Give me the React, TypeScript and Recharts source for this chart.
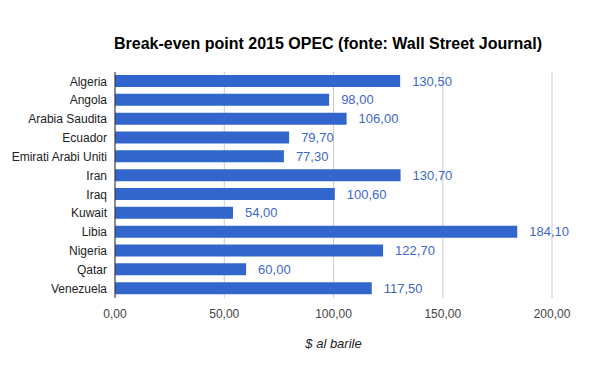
import React from "react"
import { BarChart, Bar, XAxis, YAxis, CartesianGrid, LabelList } from "recharts"

const countries = [
  "Algeria",
  "Angola",
  "Arabia Saudita",
  "Ecuador",
  "Emirati Arabi Uniti",
  "Iran",
  "Iraq",
  "Kuwait",
  "Libia",
  "Nigeria",
  "Qatar",
  "Venezuela",
]
const breakEven = [130.5, 98, 106, 79.7, 77.3, 130.7, 100.6, 54, 184.1, 122.7, 60, 117.5]
const xTicks = [0, 50, 100, 150, 200]

const data = countries.map((name, i) => ({ name, value: breakEven[i] }))

const fmt = (v: number) => Number(v).toFixed(2).replace(".", ",")
const font = "'Liberation Sans', Arial, sans-serif"

// category labels drawn by hand so long names don't get wrapped
const CountryTick = (props: any) => {
  const { x, y, payload } = props
  return (
    <text x={x} y={y} dy="0.35em" textAnchor="end" fontSize={12} fill="#222" fontFamily={font}>
      {payload.value}
    </text>
  )
}

const App = () => {
  return (
    <div style={{ position: "absolute", left: 0, top: 0, width: 600, height: 371, background: "#fff", fontFamily: font }}>
      <div
        style={{
          position: "absolute",
          left: 0,
          width: 656,
          top: 34,
          textAlign: "center",
          fontSize: 16,
          fontWeight: "bold",
          color: "#000",
          lineHeight: "20px",
        }}
      >
        Break-even point 2015 OPEC (fonte: Wall Street Journal)
      </div>
      <BarChart
        width={600}
        height={371}
        data={data}
        layout="vertical"
        barSize={12}
        margin={{ top: 72, right: 48, left: 0, bottom: 13 }}
      >
        <CartesianGrid horizontal={false} stroke="#cccccc" />
        <XAxis
          type="number"
          domain={[0, 200]}
          ticks={xTicks}
          tickFormatter={fmt}
          axisLine={false}
          tickLine={false}
          tickSize={0}
          tickMargin={11}
          height={60}
          tick={{ fontSize: 12, fill: "#444", fontFamily: font }}
          label={{
            value: "$ al barile",
            position: "insideBottom",
            offset: 10,
            style: { fontSize: 13, fontStyle: "italic", fill: "#222", fontFamily: font },
          }}
        />
        <YAxis
          type="category"
          dataKey="name"
          width={115}
          interval={0}
          tickLine={false}
          tickSize={0}
          tickMargin={8}
          axisLine={{ stroke: "#333" }}
          tick={<CountryTick />}
        />
        <Bar dataKey="value" fill="#3366cc" isAnimationActive={false}>
          <LabelList
            dataKey="value"
            position="right"
            offset={12}
            formatter={(v: any) => fmt(v)}
            style={{ fontSize: 13, fill: "#3d67c5", fontFamily: font }}
          />
        </Bar>
      </BarChart>
    </div>
  )
}

export default App
